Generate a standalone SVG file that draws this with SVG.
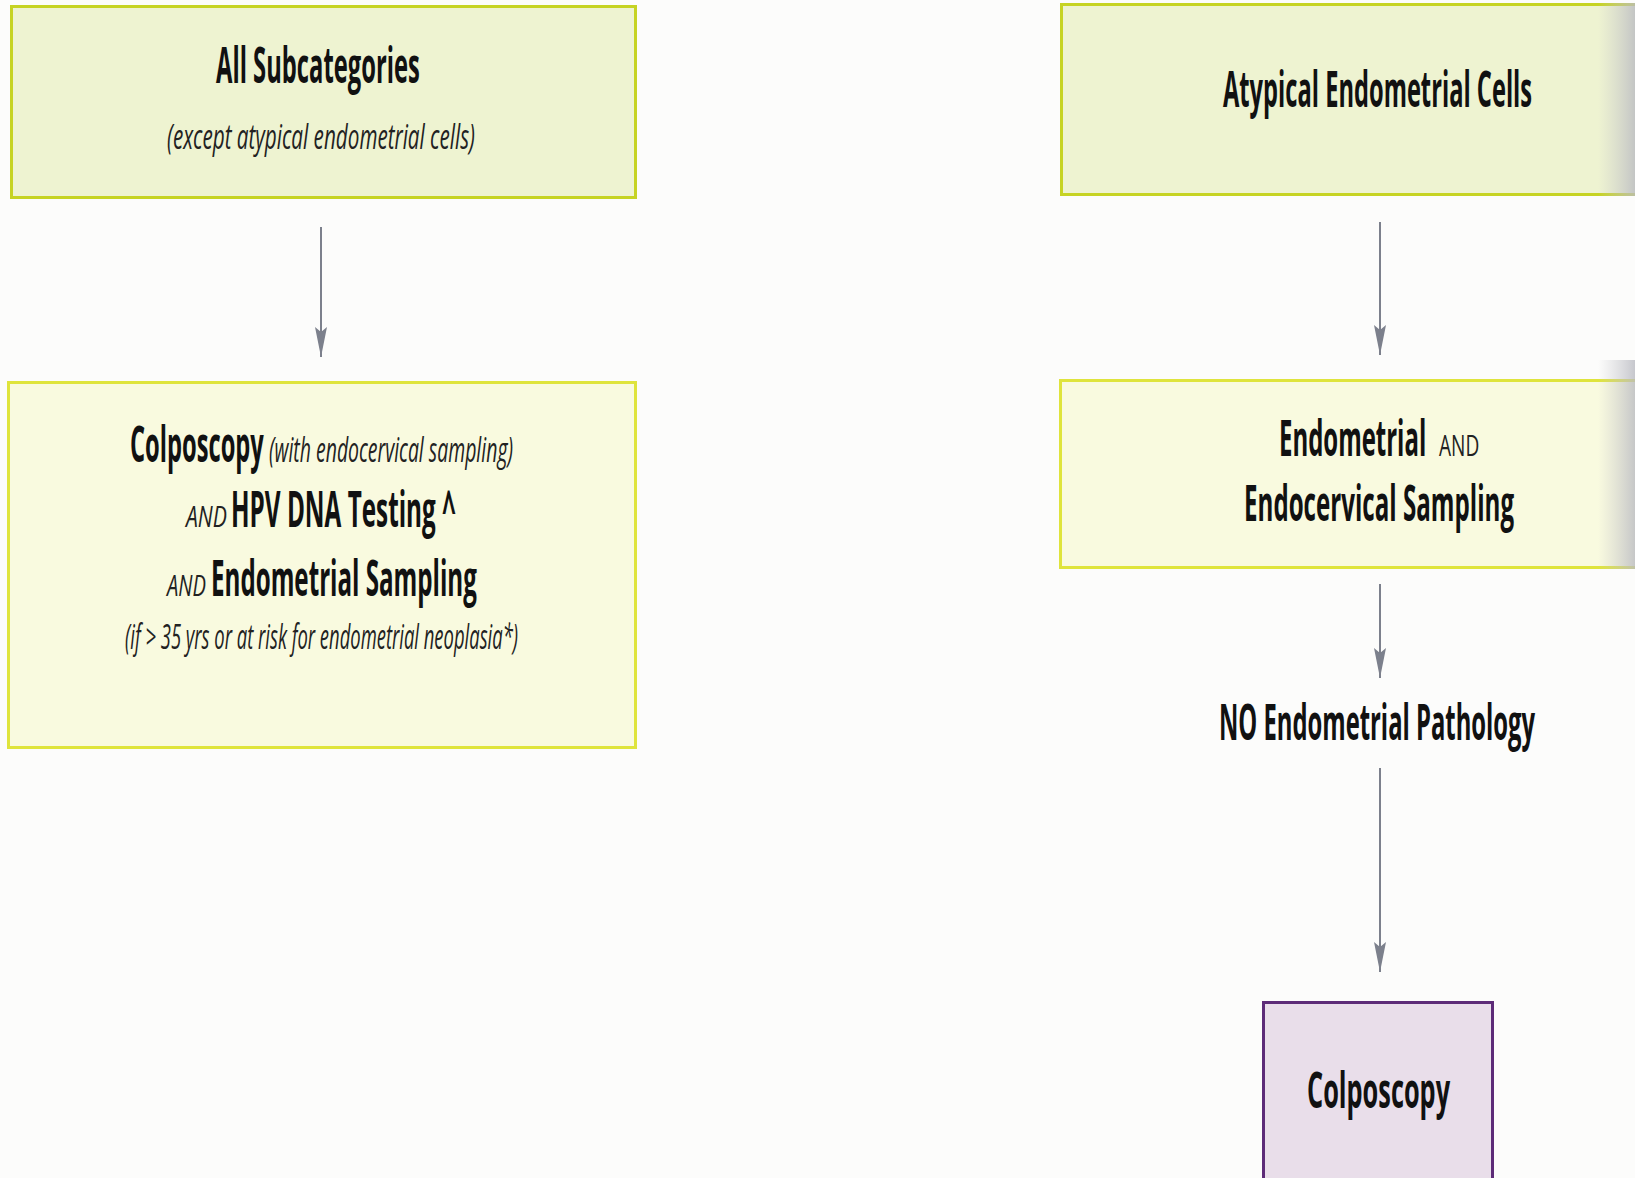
<svg xmlns="http://www.w3.org/2000/svg" width="1635" height="1178" viewBox="0 0 1635 1178">
  <defs>
    <style>
      .bg { fill: #fcfcfb; }
      .box-green { fill: #eef3d1; stroke: #c6d323; stroke-width: 3; }
      .box-yellow { fill: #f9fadf; stroke: #dfe43c; stroke-width: 3; }
      .box-purple { fill: #e9deea; stroke: #5d2b78; stroke-width: 3; }
      .head { font-family: "Open Sans", "Liberation Sans", sans-serif; font-weight: 700; font-size: 50px; fill: #111; }
      .note { font-family: "Open Sans", "Liberation Sans", sans-serif; font-style: italic; font-weight: 400; font-size: 34px; fill: #222; }
      .and-i { font-family: "Open Sans", "Liberation Sans", sans-serif; font-style: italic; font-size: 30px; fill: #222; }
      .and-r { font-family: "Open Sans", "Liberation Sans", sans-serif; font-size: 30px; fill: #222; }
      .conn { stroke: #7c808c; stroke-width: 2; fill: none; }
    </style>
    <marker id="arrowhead" viewBox="0 0 30 12" refX="30" refY="6" markerWidth="30" markerHeight="12" markerUnits="userSpaceOnUse" orient="auto">
      <path d="M0,0 L30,6 L0,12 L5,6 z" fill="#7c808c"/>
    </marker>
    <linearGradient id="edgeShade" x1="0" y1="0" x2="1" y2="0">
      <stop offset="0" stop-color="#c8c8cc" stop-opacity="0"/>
      <stop offset="1" stop-color="#b9bac2" stop-opacity="0.8"/>
    </linearGradient>
  </defs>

  <rect class="bg" x="0" y="0" width="1635" height="1178"/>

  <!-- left column; condensed lettering via horizontal scale -->
  <g id="all-subcategories">
    <rect class="box-green" x="11.5" y="6.5" width="624" height="191"/>
    <text class="head" transform="translate(216,83) scale(0.46,1)" textLength="443" lengthAdjust="spacingAndGlyphs">All Subcategories</text>
    <text class="note" font-size="36" transform="translate(167,149) scale(0.5,1)" textLength="616" lengthAdjust="spacingAndGlyphs">(except atypical endometrial cells)</text>
  </g>

  <g id="colposcopy-hpv-endometrial">
    <rect class="box-yellow" x="8.5" y="382.5" width="627" height="365"/>
    <text class="head" transform="translate(130,462) scale(0.46,1)" textLength="291" lengthAdjust="spacingAndGlyphs">Colposcopy</text>
    <text class="note" transform="translate(269,462) scale(0.5,1)" textLength="488" lengthAdjust="spacingAndGlyphs">(with endocervical sampling)</text>
    <text class="and-i" transform="translate(186,527) scale(0.66,1)" textLength="62" lengthAdjust="spacingAndGlyphs">AND</text>
    <text class="head" transform="translate(231,527) scale(0.46,1)" textLength="489" lengthAdjust="spacingAndGlyphs">HPV DNA Testing ^</text>
    <text class="and-i" transform="translate(167,596) scale(0.66,1)" textLength="59" lengthAdjust="spacingAndGlyphs">AND</text>
    <text class="head" transform="translate(211,596) scale(0.46,1)" textLength="578" lengthAdjust="spacingAndGlyphs">Endometrial Sampling</text>
    <text class="note" transform="translate(125,649) scale(0.5,1)" textLength="786" lengthAdjust="spacingAndGlyphs">(if &gt; 35 yrs or at risk for endometrial neoplasia*)</text>
  </g>

  <!-- right column -->
  <g id="atypical-endometrial-cells">
    <rect class="box-green" x="1061.5" y="4.5" width="590" height="190"/>
    <text class="head" transform="translate(1223,107) scale(0.46,1)" textLength="672" lengthAdjust="spacingAndGlyphs">Atypical Endometrial Cells</text>
  </g>

  <g id="endometrial-endocervical-sampling">
    <rect class="box-yellow" x="1060.5" y="380.5" width="590" height="187"/>
    <text class="head" transform="translate(1279,456) scale(0.46,1)" textLength="320" lengthAdjust="spacingAndGlyphs">Endometrial</text>
    <text class="and-r" transform="translate(1439,456) scale(0.66,1)" textLength="61" lengthAdjust="spacingAndGlyphs">AND</text>
    <text class="head" transform="translate(1244,521) scale(0.46,1)" textLength="587" lengthAdjust="spacingAndGlyphs">Endocervical Sampling</text>
  </g>

  <g id="no-endometrial-pathology">
    <text class="head" transform="translate(1219,740) scale(0.46,1)" textLength="687" lengthAdjust="spacingAndGlyphs">NO Endometrial Pathology</text>
  </g>

  <g id="colposcopy">
    <rect class="box-purple" x="1263.5" y="1002.5" width="229" height="190"/>
    <text class="head" transform="translate(1307,1108) scale(0.46,1)" textLength="311" lengthAdjust="spacingAndGlyphs">Colposcopy</text>
  </g>

  <!-- shading along the right margin -->
  <rect x="1598" y="3" width="37" height="193" fill="url(#edgeShade)"/>
  <rect x="1598" y="360" width="37" height="209" fill="url(#edgeShade)"/>

  <g id="connectors">
    <line class="conn" x1="321" y1="227" x2="321" y2="357" marker-end="url(#arrowhead)"/>
    <line class="conn" x1="1380" y1="222" x2="1380" y2="355" marker-end="url(#arrowhead)"/>
    <line class="conn" x1="1380" y1="584" x2="1380" y2="678" marker-end="url(#arrowhead)"/>
    <line class="conn" x1="1380" y1="768" x2="1380" y2="972" marker-end="url(#arrowhead)"/>
  </g>
</svg>
